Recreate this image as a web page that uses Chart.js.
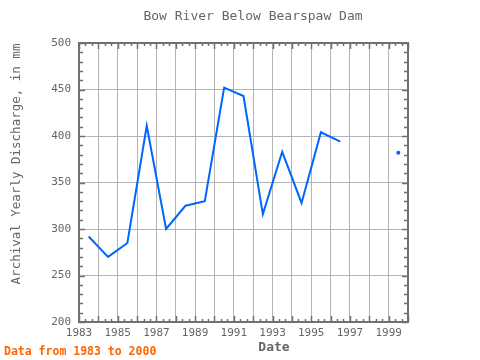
<!DOCTYPE html>
<html>
<head>
<meta charset="utf-8">
<script src="https://cdn.jsdelivr.net/npm/chart.js@4"></script>
<style>
  body { margin: 0; background: #fff; }
  #wrap { width: 480px; height: 360px; }
</style>
</head>
<body>
<div id="wrap"><canvas id="myChart" width="480" height="360"></canvas></div>
<script>
// yearly values, plotted at mid-year
const years = [1983, 1984, 1985, 1986, 1987, 1988, 1989, 1990, 1991, 1992, 1993, 1994, 1995, 1996, 1997, 1998, 1999];
const discharge = [292, 270, 285, 411, 300, 325, 330, 452, 443, 316, 383, 328, 404, 394, null, null, 382];
const xTickYears = [1983, 1985, 1987, 1989, 1991, 1993, 1995, 1997, 1999];
const yTicks = [200, 250, 300, 350, 400, 450, 500];

const mono = "'DejaVu Sans Mono', 'Liberation Mono', monospace";
const gray = "#666";

const points = years.map((yr, i) => ({ x: yr + 0.5, y: discharge[i] }));

const frame = {
  id: "frame",
  afterDraw(chart) {
    const { ctx, chartArea: a, scales } = chart;
    const x = scales.x, y = scales.y;
    ctx.save();
    ctx.strokeStyle = "#707070";
    ctx.lineWidth = 2;
    ctx.strokeRect(a.left, a.top, a.width, a.height);
    ctx.lineWidth = 1.5;
    ctx.beginPath();
    for (let k = 0; k <= 51; k++) {
      const v = 1983 + k / 3;
      const px = Math.round(x.getPixelForValue(v)) + 0.5;
      const len = k % 3 === 0 ? 6 : 3;
      ctx.moveTo(px, a.top); ctx.lineTo(px, a.top + len);
      ctx.moveTo(px, a.bottom); ctx.lineTo(px, a.bottom - len);
    }
    for (let v = 200; v <= 500; v += 10) {
      const py = Math.round(y.getPixelForValue(v)) + 0.5;
      const len = v % 50 === 0 ? 6 : 4;
      ctx.moveTo(a.left, py); ctx.lineTo(a.left + len, py);
      ctx.moveTo(a.right, py); ctx.lineTo(a.right - len, py);
    }
    ctx.stroke();

    ctx.fillStyle = gray;
    ctx.textAlign = "center";
    ctx.textBaseline = "middle";
    ctx.font = "13px " + mono;
    ctx.fillText("Bow River Below Bearspaw Dam", 253, 17);
    ctx.font = "bold 13px " + mono;
    ctx.fillText("Date", 274, 348);
    ctx.save();
    ctx.translate(17, 164);
    ctx.rotate(-Math.PI / 2);
    ctx.font = "12.5px " + mono;
    ctx.fillText("Archival Yearly Discharge, in mm", 0, 0);
    ctx.restore();
    ctx.textAlign = "left";
    ctx.fillStyle = "#ff6600";
    ctx.font = "bold 11.5px " + mono;
    ctx.fillText("Data from 1983 to 2000", 4, 352);
    ctx.restore();
  }
};

new Chart(document.getElementById("myChart"), {
  type: "line",
  data: {
    datasets: [
      {
        label: "Discharge",
        data: points,
        borderColor: "#0066ff",
        backgroundColor: "#0066ff",
        borderWidth: 2,
        spanGaps: false,
        pointRadius: (c) => {
          const i = c.dataIndex;
          const prev = i > 0 ? discharge[i - 1] : null;
          const next = i < discharge.length - 1 ? discharge[i + 1] : null;
          return prev === null && next === null ? 2 : 0;
        },
        pointBorderWidth: 0,
      },
    ],
  },
  options: {
    responsive: false,
    animation: false,
    devicePixelRatio: 1,
    layout: { padding: { left: 0, right: 72, top: 43, bottom: 0 } },
    plugins: { legend: { display: false }, title: { display: false }, tooltip: { enabled: false } },
    scales: {
      x: {
        type: "linear",
        min: 1983,
        max: 2000,
        afterFit: (s) => { s.height = 38; },
        afterBuildTicks: (s) => {
          s.ticks = years.concat([2000]).map((v) => ({ value: v }));
        },
        ticks: {
          autoSkip: false,
          maxRotation: 0,
          padding: 5,
          color: gray,
          font: { family: mono, size: 11 },
          callback: (v) => (xTickYears.includes(v) ? String(v) : ""),
        },
        grid: { color: "#b4b4b4", lineWidth: 1, drawTicks: false },
        border: { display: false },
      },
      y: {
        min: 200,
        max: 500,
        afterFit: (s) => { s.width = 79; },
        afterBuildTicks: (s) => {
          s.ticks = yTicks.map((v) => ({ value: v }));
        },
        ticks: {
          padding: 8,
          color: gray,
          font: { family: mono, size: 11 },
        },
        grid: { color: "#b4b4b4", lineWidth: 1, drawTicks: false },
        border: { display: false },
      },
    },
  },
  plugins: [frame],
});
</script>
</body>
</html>
